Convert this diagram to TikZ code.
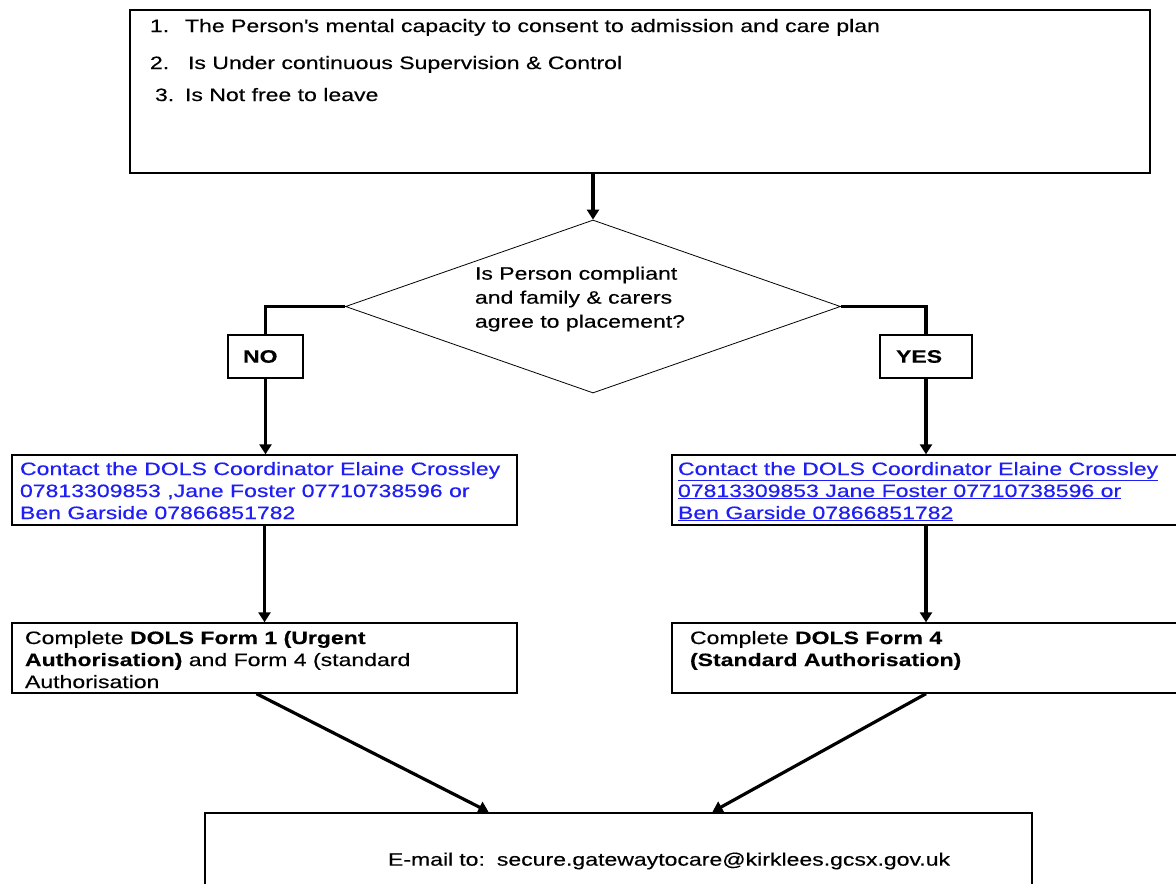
\documentclass[tikz,border=0pt]{standalone}
\usepackage{fontspec}
\setmainfont{Liberation Sans}[FakeStretch=1.28, FakeBold=0.35]
\usetikzlibrary{shapes.geometric,arrows.meta}

\definecolor{linkblue}{RGB}{30,30,245}
\newcommand{\boxtext}[3]{\parbox[c][#1][t]{#2}{\raggedright #3}}
\newcommand{\linkline}[1]{\underline{#1}}

\tikzset{
  box/.style={draw, rectangle, line width=1.4pt},
  decision/.style={draw, diamond, aspect=2.86, inner sep=0pt, line width=0.8pt,
    minimum width=495pt, minimum height=173pt},
  answer/.style={draw, rectangle, line width=1.4pt, minimum height=43pt, align=left,
    font=\fontsize{18}{22}\selectfont\bfseries},
  flow/.style={line width=3.2pt, -{Triangle[length=10pt,width=12pt]}},
  link/.style={line width=3.2pt}
}

\begin{document}
\begin{tikzpicture}[x=1pt, y=-1pt, font=\fontsize{18}{22}\selectfont]
  \fill[white] (0,0) rectangle (1176,884);
  \clip (0,0) rectangle (1176,884);

  \node[box, line width=1.8pt, inner xsep=20pt, inner ysep=9pt] (crit) at (640,91.5)
    {\boxtext{145pt}{980pt}{%
      \makebox[35pt][l]{1.}The Person\textquotesingle s mental capacity to consent to admission and care plan\\[15pt]
      \makebox[38pt][l]{2.}Is Under continuous Supervision \& Control\\[10pt]
      \hspace*{5pt}\makebox[30pt][l]{3.}Is Not free to leave}};

  \node[decision] (quest) at (593,306.5) {};
  \node[align=left, font=\fontsize{18}{24}\selectfont] (questtext) at (580,299)
    {Is Person compliant\\and family \& carers\\agree to placement?};

  \node[answer, inner xsep=15pt, text width=45pt] (no) at (265.5,356.5) {NO};
  \node[answer, inner xsep=16pt, text width=60pt] (yes) at (926,356.5) {YES};

  \node[box, inner xsep=8pt, inner ysep=7pt, text=linkblue] (cno) at (264.5,490)
    {\boxtext{56pt}{489pt}{%
      Contact the DOLS Coordinator Elaine Crossley\\
      07813309853 ,Jane Foster 07710738596 or\\
      Ben Garside 07866851782}};
  \node[box, inner xsep=6pt, inner ysep=7pt, text=linkblue] (cyes) at (926,490)
    {\boxtext{56pt}{496pt}{%
      \linkline{Contact the DOLS Coordinator Elaine Crossley}\\
      \linkline{07813309853 Jane Foster 07710738596 or}\\
      \linkline{Ben Garside 07866851782}}};

  \node[box, inner xsep=13pt, inner ysep=8pt] (fno) at (264.5,658)
    {\boxtext{54pt}{479pt}{%
      Complete \textbf{DOLS Form 1 (Urgent}\\
      \textbf{Authorisation)} and Form 4 (standard\\
      Authorisation}};
  \node[box, inner xsep=18pt, inner ysep=8pt] (fyes) at (926,658)
    {\boxtext{54pt}{472pt}{%
      Complete \textbf{DOLS Form 4}\\
      \textbf{(Standard Authorisation)}}};

  \node[box, line width=2.4pt, minimum width=827pt, minimum height=96pt,
    text width=811pt, align=left] (mail) at (618.5,861)
    {\hspace*{175pt}E-mail to:\ \ secure.gatewaytocare@kirklees.gcsx.gov.uk};

  % connectors
  \draw[flow] (quest.north |- crit.south) -- (quest.north);
  \draw[link] (quest.west) -| (no.north);
  \draw[link] (quest.east) -| (yes.north);
  \draw[flow] (no.south) -- (no.south |- cno.north);
  \draw[flow] (yes.south) -- (yes.south |- cyes.north);
  \draw[flow] (cno.south) -- (fno.north);
  \draw[flow] (cyes.south) -- (fyes.north);
  \draw[flow] ([xshift=-8pt]fno.south) -- ([xshift=-130pt]mail.north);
  \draw[flow] (fyes.south) -- ([xshift=94pt]mail.north);
\end{tikzpicture}
\end{document}
